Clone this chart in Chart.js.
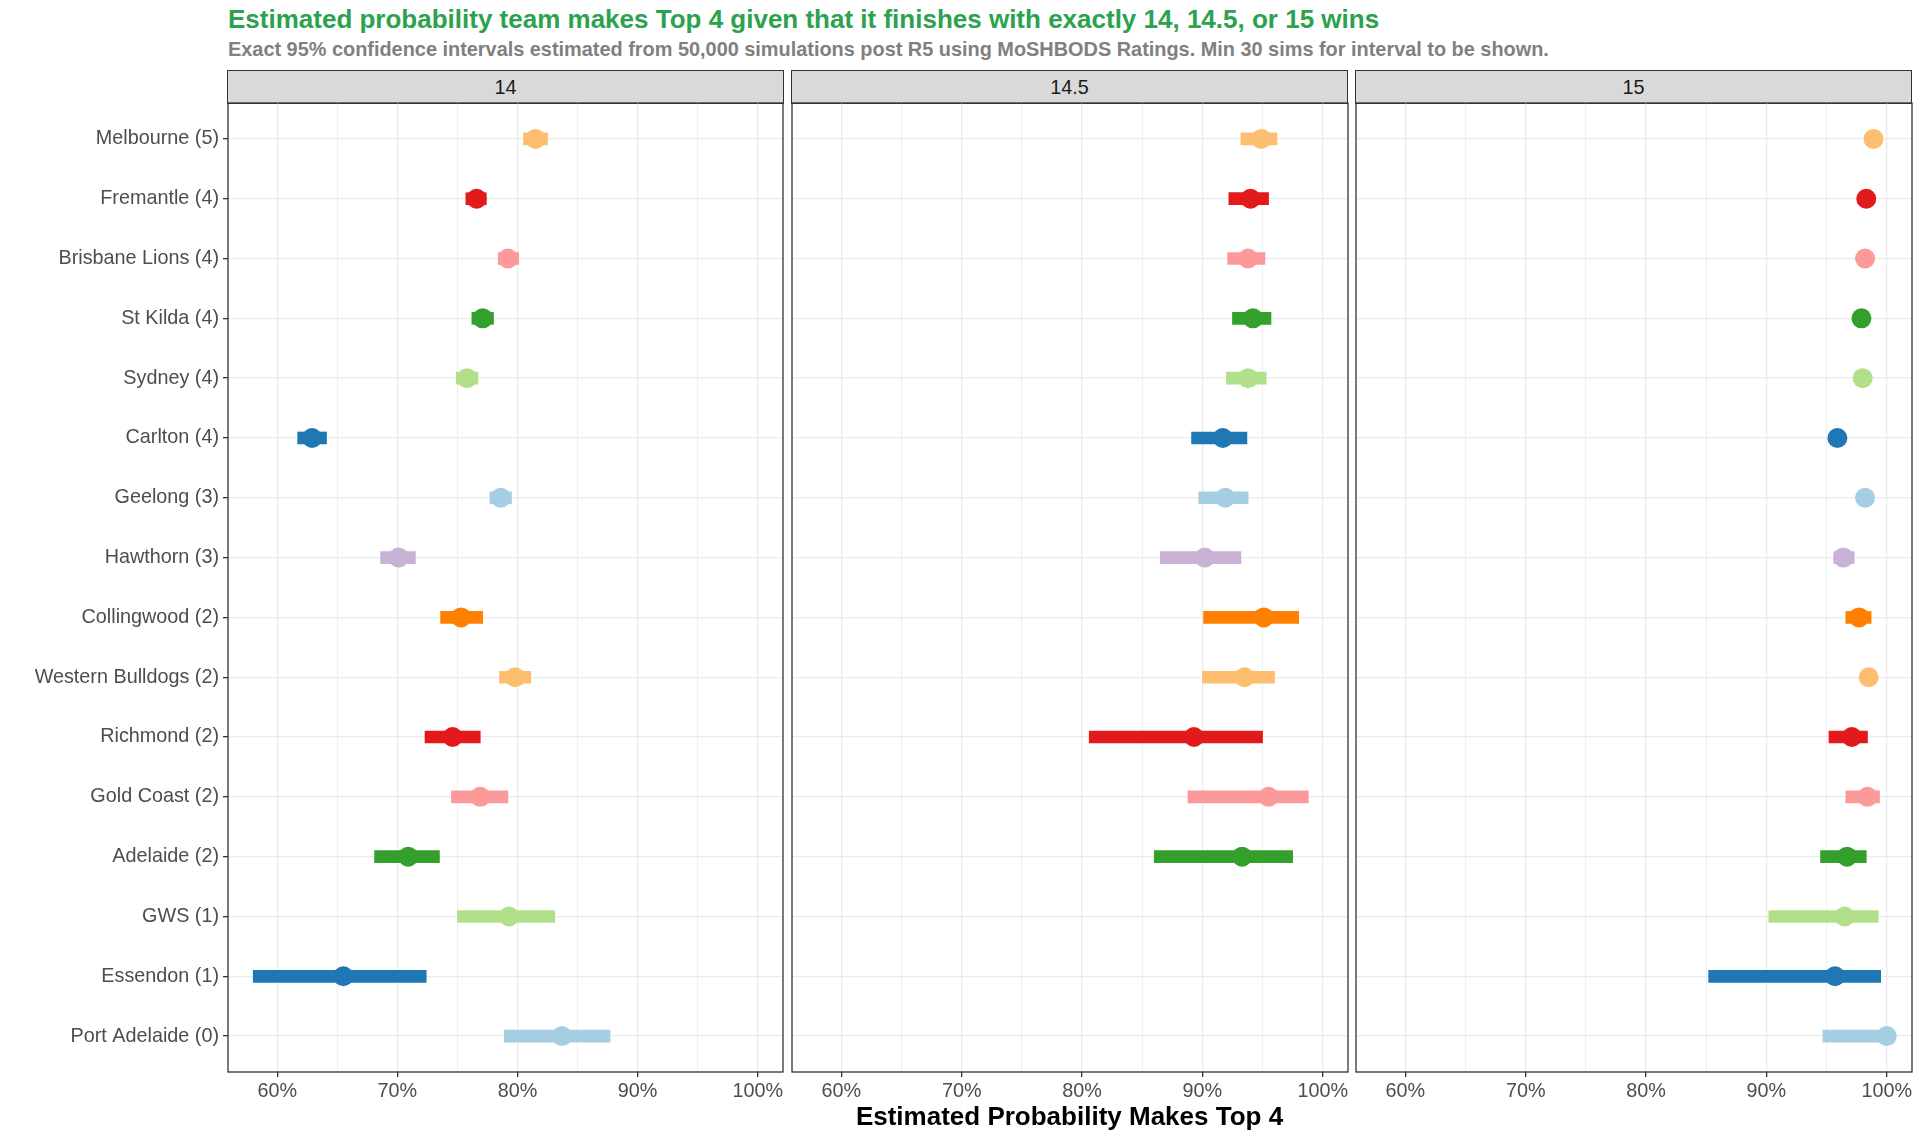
<!DOCTYPE html>
<html>
<head>
<meta charset="UTF-8">
<title>Estimated probability team makes Top 4</title>
<script src="https://cdn.jsdelivr.net/npm/chart.js"></script>
<style>
  body { margin: 0; background: #fff; font-family: "Liberation Sans", Arial, sans-serif; }
  #page { position: relative; width: 1919px; height: 1137px; overflow: hidden; background: #fff; }
  .title { position: absolute; left: 228px; top: 4px; font-size: 26px; font-weight: bold; color: #2CA24F; white-space: nowrap; }
  .subtitle { position: absolute; left: 228px; top: 38px; font-size: 19.9px; font-weight: bold; color: #808080; white-space: nowrap; }
  .strip { position: absolute; top: 70px; height: 34px; width: 557px; background: #D9D9D9; border: 1.3px solid #333; box-sizing: border-box; text-align: center; line-height: 32px; font-size: 19.8px; color: #1A1A1A; }
  .xtitle { position: absolute; left: 0; width: 100%; top: 1101px; padding-left: 220px; box-sizing: border-box; text-align: center; font-size: 26px; font-weight: bold; color: #000; }
  canvas { position: absolute; top: 101px; }
</style>
</head>
<body>
<div id="page">
  <div class="title">Estimated probability team makes Top 4 given that it finishes with exactly 14, 14.5, or 15 wins</div>
  <div class="subtitle">Exact 95% confidence intervals estimated from 50,000 simulations post R5 using MoSHBODS Ratings. Min 30 sims for interval to be shown.</div>
  <div class="strip" style="left: 227px;">14</div>
  <div class="strip" style="left: 791px;">14.5</div>
  <div class="strip" style="left: 1355px;">15</div>
  <canvas id="p1" width="785" height="1036" style="left: 0px;"></canvas>
  <canvas id="p2" width="560" height="1036" style="left: 790px;"></canvas>
  <canvas id="p3" width="560" height="1036" style="left: 1354px;"></canvas>
  <div class="xtitle">Estimated Probability Makes Top 4</div>
</div>
<script>
  // teams top to bottom
  const teams = ["Melbourne (5)", "Fremantle (4)", "Brisbane Lions (4)", "St Kilda (4)", "Sydney (4)",
    "Carlton (4)", "Geelong (3)", "Hawthorn (3)", "Collingwood (2)", "Western Bulldogs (2)",
    "Richmond (2)", "Gold Coast (2)", "Adelaide (2)", "GWS (1)", "Essendon (1)", "Port Adelaide (0)"];
  const xTicks = [60, 65, 70, 75, 80, 85, 90, 95, 100];

  // 14 wins
  const est14 = [81.5, 76.6, 79.2, 77.1, 75.8, 62.9, 78.6, 70.1, 75.3, 79.8, 74.6, 76.9, 70.9, 79.3, 65.5, 83.7];
  const lo14  = [80.5, 75.7, 78.4, 76.2, 74.9, 61.7, 77.7, 68.6, 73.6, 78.5, 72.3, 74.5, 68.1, 75.0, 58.0, 78.9];
  const hi14  = [82.5, 77.4, 80.1, 78.0, 76.7, 64.1, 79.5, 71.5, 77.1, 81.1, 76.9, 79.2, 73.5, 83.1, 72.4, 87.7];

  // 14.5 wins
  const est145 = [94.9, 94.0, 93.8, 94.2, 93.8, 91.7, 91.9, 90.2, 95.1, 93.5, 89.3, 95.5, 93.3, null, null, null];
  const lo145  = [93.2, 92.2, 92.1, 92.5, 92.0, 89.1, 89.7, 86.5, 90.1, 90.0, 80.6, 88.8, 86.0, null, null, null];
  const hi145  = [96.2, 95.5, 95.2, 95.7, 95.3, 93.7, 93.8, 93.2, 98.0, 96.0, 95.0, 98.8, 97.5, null, null, null];

  // 15 wins
  const est15 = [98.9, 98.3, 98.2, 97.9, 98.0, 95.9, 98.2, 96.4, 97.7, 98.5, 97.1, 98.4, 96.7, 96.5, 95.7, 100.0];
  const lo15  = [null, null, null, null, null, null, null, 95.6, 96.6, null, 95.2, 96.6, 94.5, 90.2, 85.2, 94.7];
  const hi15  = [null, null, null, null, null, null, null, 97.3, 98.7, null, 98.4, 99.4, 98.3, 99.3, 99.5, 100.0];

  const teamColors = ["#FDBF6F", "#E31A1C", "#FB9A99", "#33A02C", "#B2DF8A", "#1F78B4", "#A6CEE3", "#CAB2D6",
    "#FF7F00", "#FDBF6F", "#E31A1C", "#FB9A99", "#33A02C", "#B2DF8A", "#1F78B4", "#A6CEE3"];

  const FONT = "'Liberation Sans', Arial, sans-serif";

  const panelBorder = {
    id: "panelBorder",
    afterDraw(chart) {
      const a = chart.chartArea, ctx = chart.ctx;
      ctx.save();
      ctx.strokeStyle = "#333333";
      ctx.lineWidth = 1.3;
      ctx.strokeRect(a.left, a.top, a.right - a.left, a.bottom - a.top);
      ctx.restore();
    }
  };

  function makePanel(id, est, lo, hi, showY) {
    const points = [], pointColors = [], bars = [], barColors = [];
    teams.forEach((t, i) => {
      if (est[i] !== null) { points.push({ x: est[i], y: i }); pointColors.push(teamColors[i]); }
      if (lo[i] !== null) { bars.push({ x: [lo[i], hi[i]], y: i }); barColors.push(teamColors[i]); }
    });

    return new Chart(document.getElementById(id), {
      type: "bar",
      data: {
        datasets: [
          {
            type: "scatter",
            data: points,
            pointBackgroundColor: pointColors,
            pointBorderWidth: 0,
            pointRadius: 10,
            order: 0
          },
          {
            type: "bar",
            indexAxis: "y",
            data: bars,
            backgroundColor: barColors,
            barThickness: 12,
            order: 1
          }
        ]
      },
      options: {
        indexAxis: "y",
        responsive: false,
        animation: false,
        events: [],
        layout: { autoPadding: false, padding: { top: 2, left: 0, right: 2, bottom: 0 } },
        plugins: { legend: { display: false }, tooltip: { enabled: false } },
        scales: {
          x: {
            type: "linear",
            min: 55.9,
            max: 102.1,
            offset: false,
            afterBuildTicks: (s) => { s.ticks = xTicks.map((v) => ({ value: v })); },
            afterFit: (s) => { s.height = 65; s.paddingLeft = 0; s.paddingRight = 0; },
            border: { display: false },
            grid: {
              offset: false,
              color: "#EBEBEB",
              lineWidth: (c) => (c.tick && c.tick.value % 10 === 0 ? 1.3 : 0.8),
              tickColor: (c) => (c.tick && c.tick.value % 10 === 0 ? "#333333" : "rgba(0,0,0,0)"),
              tickLength: 5,
              tickWidth: 1.3
            },
            ticks: {
              autoSkip: false,
              maxRotation: 0,
              padding: 3,
              color: "#4D4D4D",
              font: { family: FONT, size: 19.8 },
              callback: (v) => (v % 10 === 0 ? v + "%" : "")
            }
          },
          y: {
            type: "linear",
            reverse: true,
            offset: false,
            min: -0.6,
            max: teams.length - 0.4,
            afterBuildTicks: (s) => { s.ticks = teams.map((t, i) => ({ value: i })); },
            afterFit: (s) => { s.width = showY ? 228 : 2; s.paddingTop = 0; s.paddingBottom = 0; },
            border: { display: false },
            grid: {
              offset: false,
              color: "#EBEBEB",
              lineWidth: 1.3,
              drawTicks: showY,
              tickColor: "#333333",
              tickLength: 5,
              tickWidth: 1.3
            },
            ticks: {
              display: showY,
              autoSkip: false,
              padding: 4,
              color: "#4D4D4D",
              font: { family: FONT, size: 19.8 },
              callback: (v) => teams[v]
            }
          }
        }
      },
      plugins: [panelBorder]
    });
  }

  makePanel("p1", est14, lo14, hi14, true);
  makePanel("p2", est145, lo145, hi145, false);
  makePanel("p3", est15, lo15, hi15, false);
</script>
</body>
</html>
